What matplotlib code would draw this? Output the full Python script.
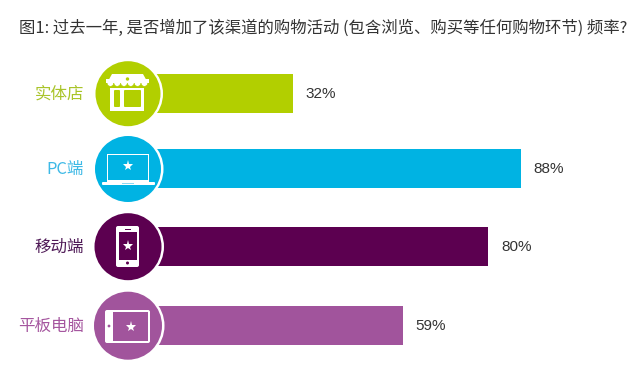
#grafico de barras com icones nos circulos

import matplotlib
matplotlib.use('Agg')
import matplotlib.pyplot as plt
from matplotlib.patches import Circle, Rectangle, FancyBboxPatch

plt.rcParams['font.family'] = ['Noto Sans CJK SC', 'DejaVu Sans']

titulo = '图1: 过去一年, 是否增加了该渠道的购物活动 (包含浏览、购买等任何购物环节) 频率?'
categorias = ['实体店', 'PC端', '移动端', '平板电脑']
valores = [32, 88, 80, 59]

cores = ['#B2CF00', '#00B3E3', '#5C0050', '#A1549C']
cores_texto = ['#A9C42A', '#3DB9E6', '#4F1A57', '#A5569F']
# centro das barras e dos circulos em pixels da imagem
y_barras = [93.5, 168.5, 246.5, 325.5]
y_circulos = [93.7, 169, 246.7, 325.7]
raios = [32.5, 33, 33.5, 34]

L, A = 640, 374
px_por_pct = 4.07
origem = 162.7

fig = plt.figure(figsize=(L / 100, A / 100), dpi=100)

# eixo das barras: x em %, y em pixels
ax = fig.add_axes([0, 0, 1, 1])
ax.set_xlim(-origem / px_por_pct, (L - origem) / px_por_pct)
ax.set_ylim(A, 0)
ax.axis('off')
extra = 7 / px_por_pct
ax.barh(y_barras, [v + extra for v in valores], left=-extra, height=39, color=cores, linewidth=0)
for v, y in zip(valores, y_barras):
    ax.text(v + 13 / px_por_pct, y + 0.5, str(v) + '%', fontsize=11, family='Liberation Sans',
            color='#333333', va='center', ha='left')

# eixo por cima em pixels para circulos e icones
ic = fig.add_axes([0, 0, 1, 1])
ic.set_xlim(0, L)
ic.set_ylim(A, 0)
ic.axis('off')
ic.patch.set_alpha(0)


def estrela(x, y, tam=8):
    ic.plot([x], [y], marker='*', markersize=tam, color='white', markeredgewidth=0)


def retangulo(x0, y0, x1, y1, cor='white', raio=0):
    if raio > 0:
        ic.add_patch(FancyBboxPatch((x0 + raio, y0 + raio), x1 - x0 - 2 * raio, y1 - y0 - 2 * raio,
                                    boxstyle='round,pad=%f' % raio, fc=cor, ec='none'))
    else:
        ic.add_patch(Rectangle((x0, y0), x1 - x0, y1 - y0, fc=cor, ec='none'))


for i in range(4):
    ic.add_patch(Circle((128.5, y_circulos[i]), raios[i] + 2, fc='white', ec='none'))
    ic.add_patch(Circle((128, y_circulos[i]), raios[i], fc=cores[i], ec='none'))

# loja
c = cores[0]
retangulo(110, 87.5, 144, 111)
retangulo(114, 90, 120, 107, c, 1)
retangulo(124, 90, 141, 107, c, 1)
ic.fill([112, 143, 148, 107], [74, 74, 83, 83], color='white', lw=0)
for k in range(6):
    ic.add_patch(Circle((110.4 + k * 6.8, 83), 3.3, fc='white', ec=c, lw=0.4))
ic.add_patch(Rectangle((106, 78.5), 43, 4.5, fc='white', ec='none'))
ic.add_patch(Circle((127.5, 79), 1.7, fc=c, ec='none'))

# laptop
c = cores[1]
retangulo(107, 154, 149, 181.5)
retangulo(108.2, 155.2, 147.8, 180.3, c)
retangulo(102, 182, 155, 185, 'white', 1)
retangulo(122, 182.5, 134, 183.5, '#8FD8F0')
estrela(128, 166)

# celular
c = cores[2]
retangulo(116, 226, 139, 267, 'white', 2)
retangulo(119, 232, 137, 260, c)
retangulo(124.5, 228.5, 130.5, 229.5, c)
ic.add_patch(Circle((127.5, 263), 1.5, fc=c, ec='none'))
estrela(127.5, 246)

# tablet
c = cores[3]
retangulo(105, 310, 150, 343, 'white', 2)
retangulo(113, 312, 148, 341, c)
ic.add_patch(Circle((109, 326), 1.4, fc=c, ec='none'))
estrela(131, 327)

for nome, y, cor in zip(categorias, y_barras, cores_texto):
    ic.text(84, y + 1, nome, fontsize=11.9, color=cor, ha='right', va='center')

ic.text(19, 28, titulo, fontsize=11.8, color='#333333', ha='left', va='center')

fig.savefig('out.png', dpi=100)
